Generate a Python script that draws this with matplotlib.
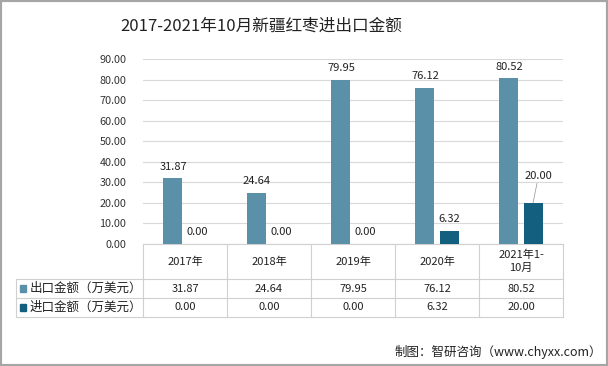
import matplotlib
matplotlib.use("Agg")
import matplotlib.pyplot as plt
from matplotlib.patches import Rectangle
import numpy as np

plt.rcParams['font.family'] = ['Noto Sans CJK SC', 'DejaVu Sans']

title = "2017-2021年10月新疆红枣进出口金额"
categories = ["2017年", "2018年", "2019年", "2020年", "2021年1-\n10月"]
series_names = ["出口金额（万美元）", "进口金额（万美元）"]
export_vals = [31.87, 24.64, 79.95, 76.12, 80.52]
import_vals = [0.00, 0.00, 0.00, 6.32, 20.00]
colors = ["#5b90a9", "#135f80"]
source = "制图：智研咨询（www.chyxx.com）"

W, H = 608, 366
fig = plt.figure(figsize=(W / 100, H / 100), dpi=100)
fig.patch.set_facecolor("white")

def px(x0, y0, x1, y1):
    return [x0 / W, 1 - y1 / H, (x1 - x0) / W, (y1 - y0) / H]

ax = fig.add_axes(px(143, 59, 563, 244))
n = len(categories)
x = np.arange(n)
bw = 0.226
off = 0.143
ax.bar(x - off, export_vals, bw, color=colors[0], zorder=3)
ax.bar(x + off, import_vals, bw, color=colors[1], zorder=3)
ax.set_xlim(-0.5, n - 0.5)
ax.set_ylim(0, 90)
ax.set_yticks(np.arange(0, 91, 10))
ax.set_yticklabels([f"{v:.2f}" for v in np.arange(0, 91, 10)], fontsize=7.8, color="#333333")
ax.tick_params(axis="y", length=0, pad=12)
ax.set_xticks([])
ax.grid(axis="y", color="#d9d9d9", linewidth=0.8, zorder=0)
for s in ["left", "right", "top"]:
    ax.spines[s].set_visible(False)
ax.spines["bottom"].set_color("#d0d0d0")

fs = 8
for xi, v in zip(x, export_vals):
    ax.annotate(f"{v:.2f}", (xi - off, v), xytext=(0, 5), textcoords="offset points",
                ha="center", va="bottom", fontsize=fs, color="#222222")
for xi, v in zip(x, import_vals):
    if v >= 15:
        ax.annotate(f"{v:.2f}", (xi + off, v), xytext=(4, 16), textcoords="offset points",
                    ha="center", va="bottom", fontsize=fs, color="#222222",
                    arrowprops=dict(arrowstyle="-", color="#a0a0a0", lw=0.6,
                                    shrinkA=0, shrinkB=0))
    else:
        ax.annotate(f"{v:.2f}", (xi + off, v), xytext=(0, 5), textcoords="offset points",
                    ha="center", va="bottom", fontsize=fs, color="#222222")

# data table under the axes
tr = ax.get_xaxis_transform()
lc = "#d0d0d0"
ah = 244 - 59
cat_px = 420 / n
y_hdr = -(279 - 244) / ah
y_r1 = -(298 - 244) / ah
y_r2 = -(317 - 244) / ah
x_left = -0.5 + (16 - 143) / cat_px
for b in np.arange(-0.5, n, 1.0):
    ax.plot([b, b], [0, y_r2], transform=tr, color=lc, lw=0.8, clip_on=False)
for yy in [y_hdr, y_r1, y_r2]:
    ax.plot([x_left, n - 0.5], [yy, yy], transform=tr, color=lc, lw=0.8, clip_on=False)
ax.plot([x_left, x_left], [y_hdr, y_r2], transform=tr, color=lc, lw=0.8, clip_on=False)

for xi, c in zip(x, categories):
    ax.text(xi, y_hdr / 2, c, transform=tr, ha="center", va="center", fontsize=fs,
            color="#222222", linespacing=1.35)
rows = [export_vals, import_vals]
ymids = [(y_hdr + y_r1) / 2, (y_r1 + y_r2) / 2]
sq_w = 7 / cat_px
sq_h = 7 / ah
for r, (vals, ym) in enumerate(zip(rows, ymids)):
    for xi, v in zip(x, vals):
        ax.text(xi, ym, f"{v:.2f}", transform=tr, ha="center", va="center",
                fontsize=fs, color="#222222")
    ax.text(x_left + 14 / cat_px, ym, series_names[r], transform=tr, ha="left", va="center",
            fontsize=9, color="#222222")
    ax.add_patch(Rectangle((x_left + 3.5 / cat_px, ym - sq_h / 2), sq_w, sq_h, transform=tr,
                           color=colors[r], clip_on=False))

fig.text(261 / W, 1 - 26 / H, title, ha="center", va="center", fontsize=12, color="#222222")
fig.text(602 / W, 1 - 352 / H, source, ha="right", va="center", fontsize=9, color="#222222")

fig.add_artist(Rectangle((0, 0), 1, 1, transform=fig.transFigure, fill=False,
                         edgecolor="#a6a6a6", linewidth=3))

fig.savefig("out.png", dpi=100)
